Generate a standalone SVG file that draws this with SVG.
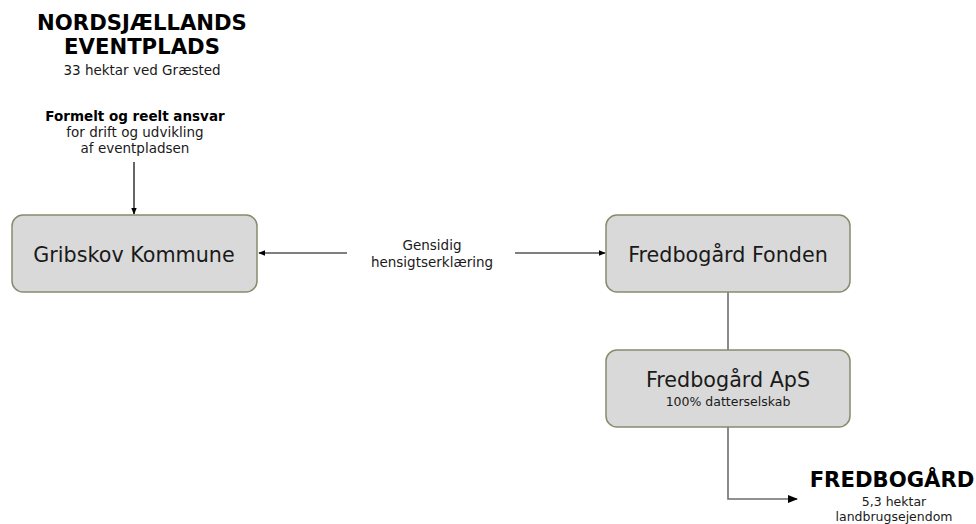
<svg xmlns="http://www.w3.org/2000/svg" width="976" height="524" viewBox="0 0 976 524">
<style>
text{font-family:"DejaVu Sans",Verdana,sans-serif;fill:#1a1a1a;text-anchor:middle}
.box{fill:#d9d9d9;stroke:#8a8a6e;stroke-width:1.5}
.big{font-size:20.7px}
.small{font-size:13.5px}
.tiny{font-size:12.5px}
.bold{font-weight:bold;fill:#000}
.head{font-size:21.2px;font-weight:bold;fill:#000}
.ln{fill:none;stroke:#000;stroke-width:1.2}
.gl{fill:none;stroke:#6e6e6e;stroke-width:1.6}
</style>
<defs>
<marker id="ah" viewBox="0 0 10 10" refX="9" refY="5" markerWidth="7" markerHeight="7" markerUnits="userSpaceOnUse" orient="auto">
<path d="M0,1 L10,5 L0,9 z" fill="#000"/>
</marker>
</defs>
<rect width="976" height="524" fill="#fff"/>
<g id="title">
<text x="142" y="30" class="head">NORDSJÆLLANDS</text>
<text x="142" y="54" class="head">EVENTPLADS</text>
<text x="142" y="75" class="small">33 hektar ved Græsted</text>
</g>
<g id="ansvar">
<text x="135" y="121" class="small bold">Formelt og reelt ansvar</text>
<text x="135" y="137" class="small">for drift og udvikling</text>
<text x="135" y="153" class="small">af eventpladsen</text>
</g>
<g id="connectors">
<line x1="134" y1="162" x2="134" y2="214" class="ln" marker-end="url(#ah)"/>
<line x1="347" y1="253" x2="259" y2="253" class="ln" marker-end="url(#ah)"/>
<line x1="515" y1="253" x2="605" y2="253" class="ln" marker-end="url(#ah)"/>
<line x1="728" y1="292" x2="728" y2="350" class="gl"/>
<polyline points="728,427 728,499 797,499" class="gl"/>
<path d="M788,495 L798,499 L788,503 z" fill="#000"/>
</g>
<g id="gensidig">
<text x="432" y="250" class="small">Gensidig</text>
<text x="432" y="267" class="small">hensigtserklæring</text>
</g>
<g id="gribskov">
<rect x="12" y="215" width="245" height="77" rx="11" class="box"/>
<text x="134" y="262" class="big">Gribskov Kommune</text>
</g>
<g id="fonden">
<rect x="606" y="215" width="244" height="77" rx="11" class="box"/>
<text x="728" y="262" class="big">Fredbogård Fonden</text>
</g>
<g id="aps">
<rect x="606" y="350" width="244" height="77" rx="11" class="box"/>
<text x="728" y="387" class="big">Fredbogård ApS</text>
<text x="728" y="406" class="tiny">100% datterselskab</text>
</g>
<g id="fredbogaard">
<text x="892" y="487" class="head">FREDBOGÅRD</text>
<text x="894" y="506" class="tiny">5,3 hektar</text>
<text x="894" y="521" class="tiny">landbrugsejendom</text>
</g>
</svg>
